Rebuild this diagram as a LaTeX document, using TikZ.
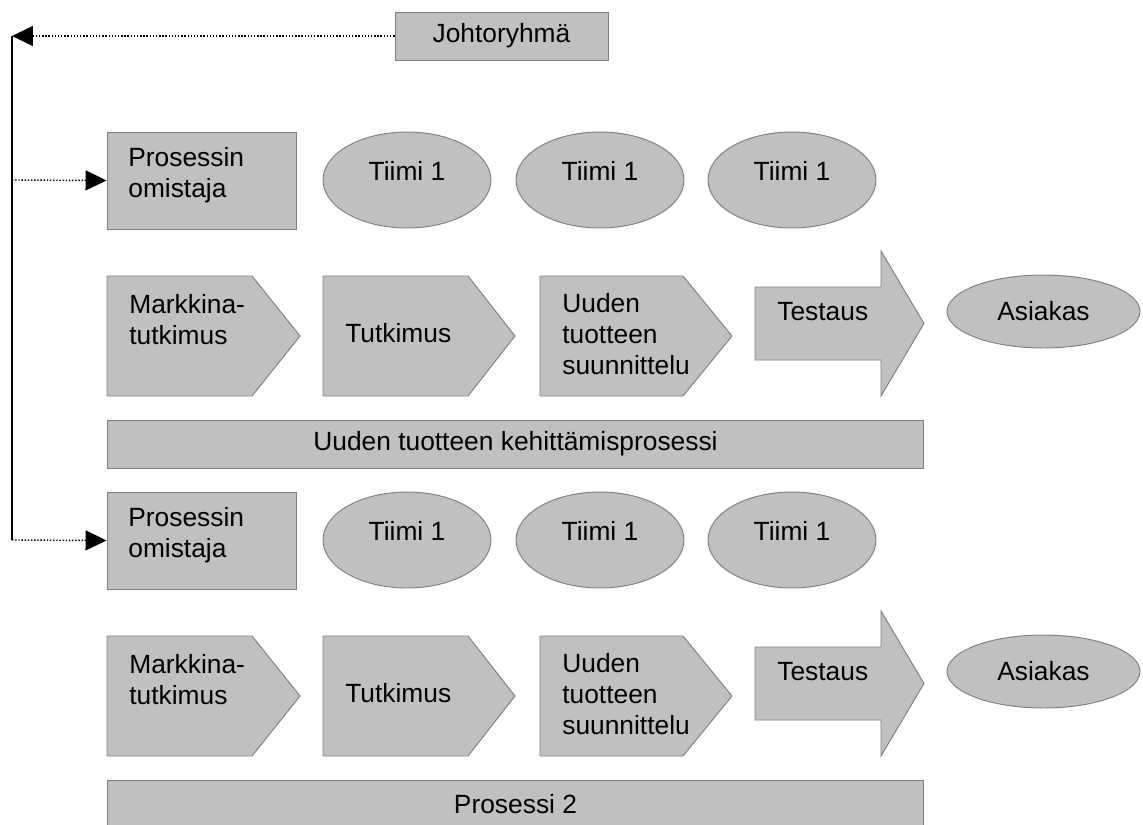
\documentclass[tikz,border=0pt]{standalone}
\usepackage{fontspec}
\setmainfont{Liberation Sans}
\usetikzlibrary{shapes.geometric,arrows.meta,positioning}
\definecolor{boxfill}{gray}{0.753}
\definecolor{boxline}{gray}{0.5}

\begin{document}
\begin{tikzpicture}[
  x=0.02cm, y=-0.02cm,
  every node/.style={font=\fontsize{15}{17.6}\selectfont, inner sep=0pt},
  box/.style={draw=boxline, fill=boxfill, line width=0.55pt, rectangle},
  team/.style={draw=boxline, fill=boxfill, line width=0.55pt, ellipse, minimum width=3.36cm, minimum height=1.92cm},
  shp/.style={draw=boxline, fill=boxfill, line width=0.55pt},
  txt/.style={anchor=north west, align=left},
  link/.style={densely dotted, line width=0.8pt, -{Triangle[length=0.42cm,width=0.4cm]}},
]
\useasboundingbox (0,0) rectangle (1143,825);
\clip (0,0) rectangle (1143,825);

% Johtoryhma and the line down the left side
\node[box,minimum width=4.26cm,minimum height=0.96cm] (jr) at (501.5,36) {Johtoryhmä};
\coordinate (ltop) at (12,36);
\coordinate (lmid) at (12,180);
\coordinate (lbot) at (12,540);
\draw[line width=0.9pt] (ltop) -- (lbot);
\draw[link] (jr.west) -- (ltop);

% Uuden tuotteen kehittamisprosessi (upper block)
\node[box,minimum width=3.78cm,minimum height=1.94cm] (apo) at (201.5,180.5) {};
\node[txt] (apot) at (128,147) {Prosessin\\omistaja};
\node[team] (at1) at (407,180) {};
\node[team] (at2) at (600,180) {};
\node[team] (at3) at (792,180) {};
\node[anchor=base] (at1t) at (at1.center) {Tiimi 1};
\node[anchor=base] (at2t) at (at2.center) {Tiimi 1};
\node[anchor=base] (at3t) at (at3.center) {Tiimi 1};
\draw[shp] (107,276) -- (252,276) -- (300,336) -- (252,396) -- (107,396) -- cycle;
\draw[shp] (323,276) -- (468,276) -- (515,336) -- (468,396) -- (323,396) -- cycle;
\draw[shp] (540,276) -- (683,276) -- (732,336) -- (683,396) -- (540,396) -- cycle;
\draw[shp] (755,287) -- (881,287) -- (881,251) -- (924,323.5) -- (881,396) -- (881,360) -- (755,360) -- cycle;
\node[txt] (amt) at (129,294) {Markkina-\\tutkimus};
\node[txt] (atu) at (345,323) {Tutkimus};
\node[txt] (asu) at (562,293) {Uuden\\tuotteen\\suunnittelu};
\node[txt] (ate) at (777,302) {Testaus};
\node[team,minimum width=3.86cm,minimum height=1.46cm] (aas) at (1043.5,311.5) {Asiakas};
\node[box,minimum width=16.34cm,minimum height=0.96cm] (abar) at (515.5,444) {Uuden tuotteen kehittämisprosessi};

% Prosessi 2 (lower block)
\node[box,minimum width=3.78cm,minimum height=1.94cm] (bpo) at (201.5,540.5) {};
\node[txt] (bpot) at (128,507) {Prosessin\\omistaja};
\node[team] (bt1) at (407,540) {};
\node[team] (bt2) at (600,540) {};
\node[team] (bt3) at (792,540) {};
\node[anchor=base] (bt1t) at (bt1.center) {Tiimi 1};
\node[anchor=base] (bt2t) at (bt2.center) {Tiimi 1};
\node[anchor=base] (bt3t) at (bt3.center) {Tiimi 1};
\draw[shp] (107,636) -- (252,636) -- (300,696) -- (252,756) -- (107,756) -- cycle;
\draw[shp] (323,636) -- (468,636) -- (515,696) -- (468,756) -- (323,756) -- cycle;
\draw[shp] (540,636) -- (683,636) -- (732,696) -- (683,756) -- (540,756) -- cycle;
\draw[shp] (755,647) -- (881,647) -- (881,611) -- (924,683.5) -- (881,756) -- (881,720) -- (755,720) -- cycle;
\node[txt] (bmt) at (129,654) {Markkina-\\tutkimus};
\node[txt] (btu) at (345,683) {Tutkimus};
\node[txt] (bsu) at (562,653) {Uuden\\tuotteen\\suunnittelu};
\node[txt] (bte) at (777,662) {Testaus};
\node[team,minimum width=3.86cm,minimum height=1.46cm] (bas) at (1043.5,671.5) {Asiakas};
\node[box,minimum width=16.34cm,minimum height=0.96cm] (bbar) at (515.5,804) {Prosessi 2};

% links to the process owners
\draw[link] (lmid) -- (apo.west);
\draw[link] (lbot) -- (bpo.west);

\end{tikzpicture}
\end{document}
